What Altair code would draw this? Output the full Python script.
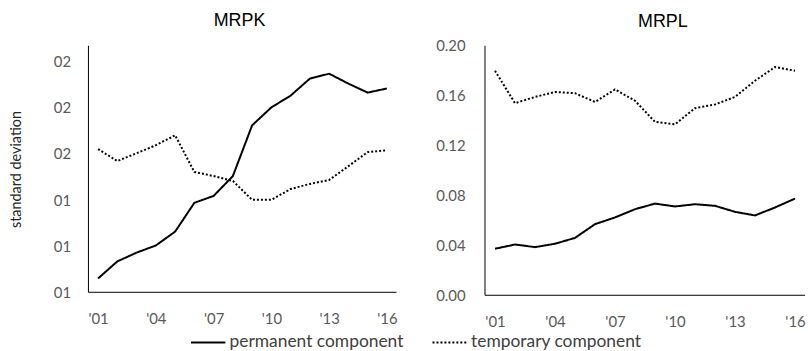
import altair as alt
import pandas as pd

years = list(range(2001, 2017))
year_labels = ["'01", "'04", "'07", "'10", "'13", "'16"]
year_ticks = [2001, 2004, 2007, 2010, 2013, 2016]

mrpk_perm = [0.106, 0.1134, 0.1172, 0.1203, 0.1263, 0.1388, 0.1418, 0.1504,
             0.1724, 0.1802, 0.1853, 0.1927, 0.1948, 0.1905, 0.1866, 0.1884]
mrpk_temp = [0.1621, 0.1569, 0.1603, 0.1638, 0.1681, 0.1522, 0.1504, 0.1483,
             0.1401, 0.1401, 0.1448, 0.1470, 0.1487, 0.1547, 0.1608, 0.1616]
mrpl_perm = [0.0373, 0.0407, 0.0386, 0.0413, 0.046, 0.057, 0.0624, 0.069,
             0.0735, 0.0712, 0.073, 0.0717, 0.0669, 0.064, 0.0704, 0.0775]
mrpl_temp = [0.180, 0.154, 0.159, 0.163, 0.162, 0.155, 0.165, 0.156,
             0.139, 0.137, 0.150, 0.153, 0.159, 0.172, 0.183, 0.180]

mrpk_tick_values = [0.10, 0.12, 0.14, 0.16, 0.18, 0.20]
mrpk_tick_labels = ["01", "01", "01", "02", "02", "02"]
mrpl_tick_values = [0.00, 0.04, 0.08, 0.12, 0.16, 0.20]

series_names = ["permanent component", "temporary component"]

x_domain = [2000.5, 2016.5]
mrpk_domain = [0.10, 0.2069]
mrpl_domain = [0.0, 0.20]


def long_df(perm, temp):
    rows = []
    for y, p, t in zip(years, perm, temp):
        rows.append({"year": y, "value": p, "series": series_names[0]})
        rows.append({"year": y, "value": t, "series": series_names[1]})
    return pd.DataFrame(rows)


df_k = long_df(mrpk_perm, mrpk_temp)
df_l = long_df(mrpl_perm, mrpl_temp)
one = pd.DataFrame({"k": [0]})

label_font = "Lato"
gray = "#595959"
tick_fs = 15

xlab_expr = "{" + ",".join(f"'{v}':\"{l}\"" for v, l in zip(year_ticks, year_labels)) + "}[datum.value]"
ylab_k_expr = "{" + ",".join(f"'{round(v*100)}':'{l}'" for v, l in zip(mrpk_tick_values, mrpk_tick_labels)) + "}[''+round(datum.value*100)]"

x_enc = alt.X("year:Q", scale=alt.Scale(domain=x_domain, nice=False, zero=False),
              axis=alt.Axis(values=year_ticks, labelExpr=xlab_expr, title=None,
                            domain=False, labelPadding=19, labelFontSize=tick_fs))

stroke_dash = alt.StrokeDash(
    "series:N",
    scale=alt.Scale(domain=series_names, range=[[1, 0], [2, 2]]),
    legend=alt.Legend(title=None, orient="none", direction="horizontal",
                      legendX=102, legendY=280, symbolType="stroke",
                      symbolSize=1200, symbolStrokeWidth=2, symbolStrokeColor="black",
                      labelFontSize=17.5, labelFont=label_font, labelColor="#404040",
                      labelLimit=400, columnPadding=24, labelOffset=3),
)


def axis_rules(ymin):
    base = alt.Chart(one)
    v = base.mark_rule(color="black", strokeWidth=1).encode(x=alt.datum(x_domain[0]))
    h = base.mark_rule(color="black", strokeWidth=1).encode(y=alt.datum(ymin))
    return v, h


lines_k = alt.Chart(df_k).mark_line(color="black", strokeWidth=2, strokeCap="butt").encode(
    x=x_enc,
    y=alt.Y("value:Q", scale=alt.Scale(domain=mrpk_domain, nice=False, zero=False),
            axis=alt.Axis(values=mrpk_tick_values, labelExpr=ylab_k_expr, domain=False,
                          title="standard deviation", titlePadding=30,
                          titleFont=label_font, titleFontSize=14.5, titleFontWeight="normal",
                          titleColor="#262626", labelPadding=18, labelFontSize=tick_fs)),
    strokeDash=stroke_dash,
)
vk, hk = axis_rules(mrpk_domain[0])
left = alt.layer(lines_k, vk, hk).properties(
    width=310, height=248,
    title=alt.TitleParams("MRPK", frame="group", dx=-3, offset=15),
)

lines_l = alt.Chart(df_l).mark_line(color="black", strokeWidth=2, strokeCap="butt").encode(
    x=x_enc,
    y=alt.Y("value:Q", scale=alt.Scale(domain=mrpl_domain, nice=False),
            axis=alt.Axis(values=mrpl_tick_values, format=".2f", title=None, domain=False,
                          labelPadding=20, labelFontSize=tick_fs)),
    strokeDash=stroke_dash,
)
vl, hl = axis_rules(mrpl_domain[0])
right = alt.layer(lines_l, vl, hl).properties(
    width=322, height=251,
    title=alt.TitleParams("MRPL", frame="group", dx=18, offset=8),
)

chart = alt.hconcat(left, right, spacing=38).properties(
    padding={"left": 8, "top": 11, "right": 2, "bottom": 2},
    background="white",
).configure_view(stroke=None).configure_axis(
    grid=False, ticks=False, labelColor=gray, labelFont=label_font,
).configure_title(
    font="Liberation Sans", fontSize=18, fontWeight="normal", color="black", anchor="middle",
)

chart.save("out.html", embed_options={"renderer": "svg", "actions": False})
